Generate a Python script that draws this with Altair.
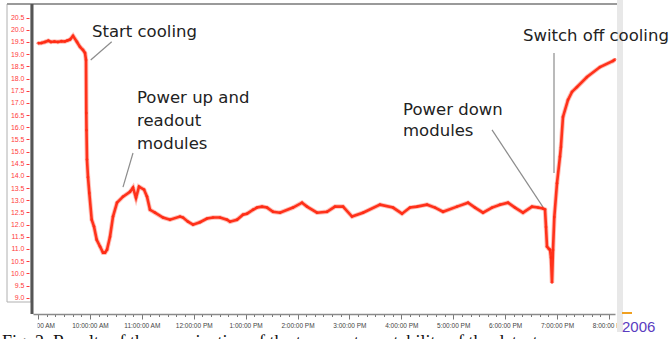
import altair as alt
import pandas as pd

DAY = "2006-01-01"

# Sensor temperature log (time of day, degrees C)
times = [
    "09:00:00", "09:04:00", "09:08:00", "09:12:00", "09:15:00", "09:19:00",
    "09:23:00", "09:27:00", "09:31:00", "09:34:00", "09:37:00", "09:40:28",
    "09:45:05", "09:48:33", "09:52:02", "09:54:20", "09:55:30", "09:55:50",
    "09:56:04", "09:56:38", "09:57:48", "09:59:18", "10:02:05", "10:04:44",
    "10:07:52", "10:11:41", "10:15:09", "10:17:27", "10:19:46", "10:23:14",
    "10:26:42", "10:31:20", "10:38:16", "10:46:22", "10:49:50", "10:53:18",
    "10:56:46", "11:02:33", "11:06:01", "11:09:29", "11:15:16", "11:24:31",
    "11:32:36", "11:44:10", "11:47:38", "11:53:25", "11:59:12", "12:07:17",
    "12:15:22", "12:22:19", "12:30:25", "12:38:30", "12:41:58", "12:50:04",
    "12:57:00", "13:01:37", "13:08:34", "13:13:11", "13:18:58", "13:24:45",
    "13:31:41", "13:39:46", "13:54:48", "14:05:13", "14:11:00", "14:22:33",
    "14:34:07", "14:43:22", "14:52:37", "15:03:01", "15:15:44", "15:35:23",
    "15:50:25", "16:00:49", "16:10:04", "16:18:10", "16:29:44", "16:38:59",
    "16:48:14", "17:04:25", "17:17:08", "17:25:13", "17:34:28", "17:44:53",
    "17:54:07", "18:03:22", "18:11:27", "18:20:42", "18:31:06", "18:38:03",
    "18:43:50", "18:46:08", "18:47:17", "18:48:26", "18:50:45", "18:51:55",
    "18:53:04", "18:54:13", "18:55:22", "18:56:53", "19:00:00", "19:03:26",
    "19:04:32", "19:06:54", "19:12:41", "19:17:18", "19:23:05", "19:34:39",
    "19:49:41", "20:04:43", "20:07:01",
]
temps = [
    19.45, 19.46, 19.50, 19.55, 19.50, 19.52,
    19.50, 19.53, 19.52, 19.56, 19.60, 19.75,
    19.50, 19.30, 19.17, 19.05, 18.76, 16.58,
    15.88, 14.67, 13.95, 13.30, 12.20, 11.92,
    11.38, 11.10, 10.85, 10.85, 10.97, 11.50,
    12.33, 12.90, 13.15, 13.35, 13.52, 13.10,
    13.56, 13.44, 13.15, 12.61, 12.49, 12.29,
    12.20, 12.33, 12.29, 12.12, 12.00, 12.10,
    12.25, 12.29, 12.29, 12.20, 12.12, 12.20,
    12.41, 12.45, 12.61, 12.70, 12.74, 12.70,
    12.53, 12.49, 12.70, 12.90, 12.74, 12.49,
    12.53, 12.74, 12.74, 12.33, 12.49, 12.82,
    12.70, 12.45, 12.70, 12.74, 12.82, 12.70,
    12.53, 12.74, 12.90, 12.70, 12.49, 12.70,
    12.82, 12.90, 12.70, 12.49, 12.74, 12.70,
    12.66, 12.62, 11.90, 11.10, 11.00, 10.97,
    10.64, 9.62, 10.96, 12.31, 13.70, 14.79,
    15.19, 16.42, 17.12, 17.45, 17.65, 18.06,
    18.47, 18.72, 18.78,
]

# Event annotations: text lines and leader lines
note_text = ["Start cooling", "Power up and", "readout", "modules",
             "Power down", "modules", "Switch off cooling"]
note_time = ["10:02:25", "10:54:27", "10:54:27", "10:54:27",
             "16:02:00", "16:02:00", "18:20:42"]
note_temp = [19.70, 17.00, 16.06, 15.12, 16.50, 15.64, 19.56]

lead_t1 = ["10:25:12", "10:38:16", "17:44:53", "18:56:32"]
lead_v1 = [19.51, 13.54, 15.89, 19.05]
lead_t2 = ["10:00:56", "10:49:50", "18:43:50", "18:56:32"]
lead_v2 = [18.76, 14.94, 12.72, 14.12]

y_ticks = [9.0 + 0.5 * i for i in range(24)]

W, H = 582, 310
RED = "#ff2a12"
FONT = "DejaVu Sans"


def stamp(t):
    return f"{DAY}T{t}"


def dt(h, m, s=0):
    return alt.DateTime(year=2006, month=1, date=1, hours=h, minutes=m, seconds=s)


x_ticks = [dt(9 + k // 6, (k % 6) * 10) for k in range(67)]

trace = pd.DataFrame({"time": [stamp(t) for t in times], "temp": temps})
notes = pd.DataFrame({"time": [stamp(t) for t in note_time], "temp": note_temp,
                      "label": note_text})
leads = pd.DataFrame({"t1": [stamp(t) for t in lead_t1], "v1": lead_v1,
                      "t2": [stamp(t) for t in lead_t2], "v2": lead_v2})
one = pd.DataFrame({"k": [0]})

x_scale = alt.Scale(domain=[dt(8, 54, 13), dt(20, 7, 3)])
y_scale = alt.Scale(domain=[8.33, 21.06], nice=False, zero=False)

x_axis = alt.Axis(
    values=x_ticks, tickCount=500,
    labelExpr="minutes(datum.value) == 0 ? timeFormat(datum.value, '%-I:%M:%S %p') : ''",
    labelOverlap=False, labelFlush=False, labelFont="Liberation Sans",
    labelFontSize=6.5, labelColor="#444", labelPadding=3,
    tickSize={"condition": {"test": "minutes(datum.value) == 0", "value": 5}, "value": 2.5},
    tickColor="#777", domainColor="#8a8a8a", domainWidth=1.5,
    grid=False, title=None,
)
y_axis = alt.Axis(
    values=y_ticks, tickCount=500, format=".1f", labelColor="#ff3b3b",
    labelFontSize=7, labelFont="Liberation Sans", tickColor="#ff3b3b",
    tickSize=3, offset=4, labelPadding=2, labelOverlap=False,
    domain=False, grid=False, title=None,
)

enc = dict(
    x=alt.X("time:T", scale=x_scale, axis=x_axis),
    y=alt.Y("temp:Q", scale=y_scale, axis=y_axis),
)

# soft halo under the trace, then the trace with sample markers
halo = alt.Chart(trace).mark_line(color=RED, strokeWidth=4.5, opacity=0.3).encode(**enc)
line = alt.Chart(trace).mark_line(
    color=RED, strokeWidth=2.6, opacity=0.95,
    point=alt.OverlayMarkDef(color=RED, size=8, filled=True, opacity=0.7),
).encode(**enc)

leaders = alt.Chart(leads).mark_rule(color="#8c8c8c", strokeWidth=1.2).encode(
    x=alt.X("t1:T", scale=x_scale), y=alt.Y("v1:Q", scale=y_scale),
    x2="t2:T", y2="v2",
)

labels = alt.Chart(notes).mark_text(
    align="left", baseline="alphabetic", font=FONT, fontSize=16.5, color="#222",
).encode(
    x=alt.X("time:T", scale=x_scale), y=alt.Y("temp:Q", scale=y_scale),
    text="label:N",
)

# Frame pieces around the plot area
panel = alt.Chart(one).mark_rect(stroke="#b0b0b0", strokeWidth=1, fillOpacity=0).encode(
    x=alt.value(-26), x2=alt.value(-2), y=alt.value(0), y2=alt.value(298))
left_bar = alt.Chart(one).mark_rule(color="#555", strokeWidth=3).encode(
    x=alt.value(-1), y=alt.value(0), y2=alt.value(H))
top_bar = alt.Chart(one).mark_rule(color="#9a9a9a", strokeWidth=2).encode(
    x=alt.value(-26), x2=alt.value(W + 2), y=alt.value(0))
strip = alt.Chart(one).mark_rect(color="#e8e8e8").encode(
    x=alt.value(W + 2), x2=alt.value(W + 8), y=alt.value(-4), y2=alt.value(H + 18))
mask_l = alt.Chart(one).mark_rect(color="white").encode(
    x=alt.value(-33), x2=alt.value(4.5), y=alt.value(H + 2), y2=alt.value(H + 20))
mask_r = alt.Chart(one).mark_rect(color="white").encode(
    x=alt.value(W + 8), x2=alt.value(W + 60), y=alt.value(H + 2), y2=alt.value(H + 20))
dash = alt.Chart(one).mark_rule(color="#f0a020", strokeWidth=2).encode(
    x=alt.value(W + 7), x2=alt.value(W + 17), y=alt.value(H - 1))
year = alt.Chart(one).mark_text(
    text="2006", align="left", baseline="middle", font="Liberation Sans",
    fontSize=15, color="#5a3cc0",
).encode(x=alt.value(W + 7), y=alt.value(H + 13))
caption = alt.Chart(one).mark_text(
    text="Fig. 2. Results of the examination of the temperature stability of the detector",
    align="left", baseline="alphabetic", font="Liberation Serif", fontSize=18,
    color="#111",
).encode(x=alt.value(-31), y=alt.value(H + 34))

chart = alt.layer(
    panel, top_bar, strip, leaders, halo, line, labels, left_bar,
    mask_l, mask_r, dash, year, caption,
).properties(
    width=W, height=H,
    autosize=alt.AutoSizeParams(type="none"),
    padding={"left": 33, "top": 4, "right": 55, "bottom": 25},
    background="white",
).configure_view(stroke=None)

chart.save("out.html", embed_options={"renderer": "svg", "actions": False})
